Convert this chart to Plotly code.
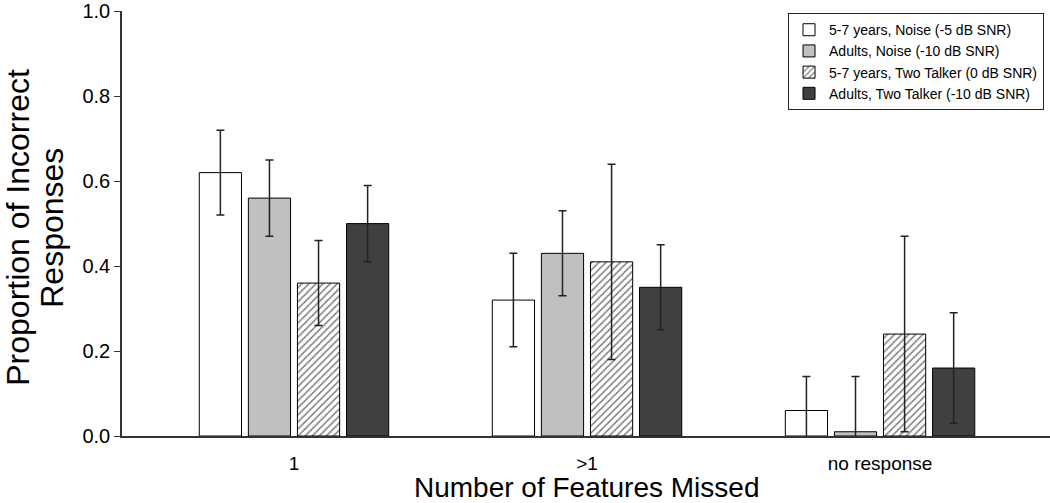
import plotly.graph_objects as go

categories = ["1", ">1", "no response"]
series_names = [
    "5-7 years, Noise (-5 dB SNR)",
    "Adults, Noise (-10 dB SNR)",
    "5-7 years, Two Talker (0 dB SNR)",
    "Adults, Two Talker (-10 dB SNR)",
]
kids_noise = [0.62, 0.32, 0.06]
adults_noise = [0.56, 0.43, 0.01]
kids_talker = [0.36, 0.41, 0.24]
adults_talker = [0.50, 0.35, 0.16]

kids_noise_err = [0.10, 0.11, 0.08]
adults_noise_err = [0.09, 0.10, 0.13]
kids_talker_err = [0.10, 0.23, 0.23]
adults_talker_err = [0.09, 0.10, 0.13]

y_ticks = [0, 0.2, 0.4, 0.6, 0.8, 1.0]
y_tick_labels = ["0.0", "0.2", "0.4", "0.6", "0.8", "1.0"]

values = [kids_noise, adults_noise, kids_talker, adults_talker]
errors = [kids_noise_err, adults_noise_err, kids_talker_err, adults_talker_err]
fills = ["white", "#c0c0c0", "white", "#404040"]
patterns = ["", "", "/", ""]

fig = go.Figure()
for name, v, e, c, p in zip(series_names, values, errors, fills, patterns):
    marker = dict(color=c, line=dict(color="black", width=1))
    if p:
        marker["pattern"] = dict(shape=p, fgcolor="black", bgcolor="white", size=5, solidity=0.3)
    fig.add_trace(go.Bar(
        x=categories, y=v, name=name, marker=marker,
        error_y=dict(type="data", array=e, visible=True, color="#222222", thickness=1.5, width=4),
    ))

fig.update_layout(
    width=1050, height=503,
    margin=dict(l=122, r=0, t=8, b=67),
    paper_bgcolor="white", plot_bgcolor="white",
    barmode="group", bargap=0.33, bargroupgap=0.14,
    font=dict(family="Liberation Sans, Arial, sans-serif", color="black"),
    showlegend=True,
    legend=dict(
        x=0.7177, y=0.995, xanchor="left", yanchor="top",
        bordercolor="#222222", borderwidth=1, bgcolor="white",
        font=dict(size=14), tracegroupgap=0, itemwidth=30,
    ),
    xaxis=dict(
        range=[-0.587, 2.58], showline=True, linecolor="#333333", linewidth=1.5,
        ticks="", tickfont=dict(size=19), ticklabelstandoff=9,
        showgrid=False, zeroline=False,
    ),
    yaxis=dict(
        range=[0, 1.0005], tickvals=y_ticks, ticktext=y_tick_labels,
        showline=True, linecolor="#333333", linewidth=1.5,
        ticks="outside", ticklen=6, tickcolor="#333333", tickfont=dict(size=20),
        ticklabeloverflow="allow",
        showgrid=False, zeroline=False,
    ),
    annotations=[
        dict(text="Proportion of Incorrect", xref="paper", yref="paper", x=0, y=0.49,
             xshift=-104, textangle=-90, showarrow=False, xanchor="center", yanchor="middle",
             font=dict(size=32)),
        dict(text="Responses", xref="paper", yref="paper", x=0, y=0.49,
             xshift=-70, textangle=-90, showarrow=False, xanchor="center", yanchor="middle",
             font=dict(size=32)),
        dict(text="Number of Features Missed", xref="paper", yref="paper", x=0.5, y=0,
             yshift=-51, showarrow=False, xanchor="center", yanchor="middle",
             font=dict(size=28)),
    ],
)

fig.write_html("out.html", config={"displayModeBar": False},
               post_script="document.body.style.margin='0px';")
